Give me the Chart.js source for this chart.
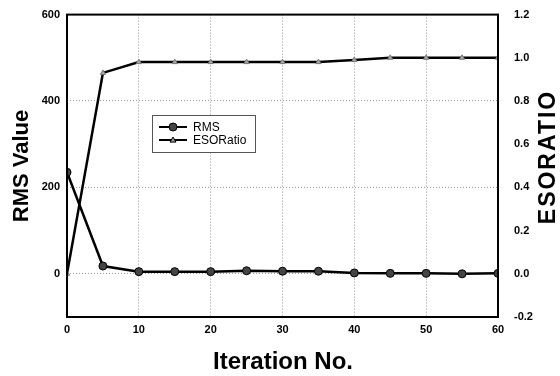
<!DOCTYPE html>
<html>
<head>
<meta charset="utf-8">
<script src="https://cdn.jsdelivr.net/npm/chart.js@4/dist/chart.umd.min.js"></script>
<style>
  html, body { margin: 0; padding: 0; background: #fff; }
  #wrap { width: 560px; height: 376px; }
</style>
</head>
<body>
<div id="wrap"><canvas id="grafica" width="560" height="376"></canvas></div>
<script>
// datos
const iteraciones = [0, 5, 10, 15, 20, 25, 30, 35, 40, 45, 50, 55, 60];
const rms = [235, 18, 5, 5, 5, 7, 6, 6, 2, 1, 1, 0, 1];
const esoRatio = [0.0, 0.93, 0.98, 0.98, 0.98, 0.98, 0.98, 0.98, 0.99, 1.0, 1.0, 1.0, 1.0];
const ticksRms = [0, 200, 400, 600];
const ticksEso = [-0.2, 0.0, 0.2, 0.4, 0.6, 0.8, 1.0, 1.2];
const ticksX = [0, 10, 20, 30, 40, 50, 60];

const fuente = '"Liberation Sans", Arial, sans-serif';

// marco, titulos de ejes y leyenda
const extras = {
    id: 'extras',
    afterDraw(chart) {
        const ctx = chart.ctx;
        const a = chart.chartArea;
        ctx.save();
        ctx.strokeStyle = '#000';
        ctx.lineWidth = 2;
        ctx.strokeRect(a.left, a.top, a.right - a.left, a.bottom - a.top);

        ctx.fillStyle = '#000';
        ctx.textAlign = 'center';
        ctx.textBaseline = 'middle';
        ctx.font = 'bold 24px ' + fuente;
        ctx.fillText('Iteration No.', 283, 362);

        ctx.save();
        ctx.font = 'bold 22px ' + fuente;
        ctx.translate(22, 166);
        ctx.rotate(-Math.PI / 2);
        ctx.fillText('RMS Value', 0, 0);
        ctx.restore();

        ctx.save();
        ctx.font = 'bold 23px ' + fuente;
        ctx.letterSpacing = '2px';
        ctx.translate(549, 158);
        ctx.rotate(-Math.PI / 2);
        ctx.fillText('ESORATIO', 1, 0);
        ctx.restore();

        // leyenda
        const lx = 152, ly = 115, lw = 103, lh = 37;
        ctx.fillStyle = '#fff';
        ctx.fillRect(lx, ly, lw, lh);
        ctx.strokeStyle = '#555';
        ctx.lineWidth = 1;
        ctx.strokeRect(lx + 0.5, ly + 0.5, lw, lh);
        const filas = [
            { y: ly + 12, texto: 'RMS', estilo: 'circle', r: 4, fondo: '#444' },
            { y: ly + 25, texto: 'ESORatio', estilo: 'triangle', r: 3, fondo: '#999' }
        ];
        filas.forEach(f => {
            ctx.strokeStyle = '#000';
            ctx.lineWidth = 2;
            ctx.beginPath();
            ctx.moveTo(lx + 7, f.y);
            ctx.lineTo(lx + 35, f.y);
            ctx.stroke();
            ctx.fillStyle = f.fondo;
            ctx.lineWidth = 1;
            ctx.beginPath();
            if (f.estilo === 'circle') {
                ctx.arc(lx + 21, f.y, f.r, 0, Math.PI * 2);
            } else {
                ctx.moveTo(lx + 21, f.y - f.r);
                ctx.lineTo(lx + 21 + f.r, f.y + f.r * 0.7);
                ctx.lineTo(lx + 21 - f.r, f.y + f.r * 0.7);
                ctx.closePath();
            }
            ctx.fill();
            ctx.stroke();
            ctx.fillStyle = '#000';
            ctx.font = '12px ' + fuente;
            ctx.textAlign = 'left';
            ctx.fillText(f.texto, lx + 41, f.y + 1);
        });
        ctx.restore();
    }
};

const ctx = document.getElementById('grafica').getContext('2d');
new Chart(ctx, {
    type: 'line',
    data: {
        datasets: [{
            label: 'RMS',
            data: iteraciones.map((x, i) => ({ x: x, y: rms[i] })),
            yAxisID: 'y',
            borderColor: '#000',
            borderWidth: 2.5,
            pointStyle: 'circle',
            pointRadius: 4,
            pointBackgroundColor: '#444',
            pointBorderColor: '#000',
            pointBorderWidth: 1
        }, {
            label: 'ESORatio',
            data: iteraciones.map((x, i) => ({ x: x, y: esoRatio[i] })),
            yAxisID: 'y2',
            borderColor: '#000',
            borderWidth: 2.5,
            pointStyle: 'triangle',
            pointRadius: 3,
            pointBackgroundColor: '#aaa',
            pointBorderColor: '#777',
            pointBorderWidth: 1
        }]
    },
    options: {
        responsive: false,
        animation: false,
        layout: { padding: { top: 14, left: 0, right: 0, bottom: 0 } },
        plugins: { legend: { display: false }, tooltip: { enabled: false } },
        scales: {
            x: {
                type: 'linear',
                min: 0, max: 60,
                afterBuildTicks: s => { s.ticks = ticksX.map(v => ({ value: v })); },
                afterFit: s => { s.height = 59; },
                grid: {
                    drawTicks: false,
                    color: '#999',
                    lineWidth: ctx => (ctx.tick && (ctx.tick.value === 0 || ctx.tick.value === 60)) ? 0 : 1
                },
                border: { display: false, dash: [1, 2] },
                ticks: { color: '#000', padding: 6, font: { family: fuente, size: 11, weight: 'bold' } }
            },
            y: {
                position: 'left',
                min: -100, max: 600,
                afterBuildTicks: s => { s.ticks = ticksRms.map(v => ({ value: v })); },
                afterFit: s => { s.width = 67; },
                grid: {
                    drawTicks: false,
                    color: '#999',
                    lineWidth: ctx => (ctx.tick && ctx.tick.value === 600) ? 0 : 1
                },
                border: { display: false, dash: [1, 2] },
                ticks: { color: '#000', padding: 7, font: { family: fuente, size: 11, weight: 'bold' } }
            },
            y2: {
                position: 'right',
                min: -0.2, max: 1.2,
                afterBuildTicks: s => { s.ticks = ticksEso.map(v => ({ value: v })); },
                afterFit: s => { s.width = 62; },
                grid: { display: false },
                border: { display: false },
                ticks: {
                    color: '#000', padding: 8,
                    font: { family: fuente, size: 11, weight: 'bold' },
                    callback: v => v.toFixed(1)
                }
            }
        }
    },
    plugins: [extras]
});
</script>
</body>
</html>
